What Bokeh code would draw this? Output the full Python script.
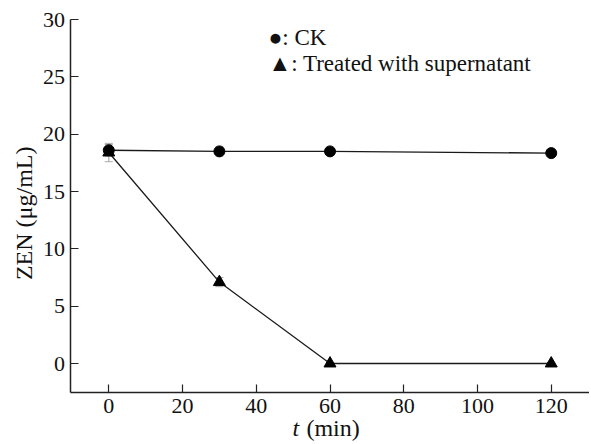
from math import pi
from bokeh.plotting import figure
from bokeh.models import ColumnDataSource, Whisker, Range1d, FixedTicker
from bokeh.core.properties import value
from bokeh.embed import file_html
from bokeh.resources import INLINE

# ---- data ----
time_min = [0, 30, 60, 120]
ck = [18.6, 18.5, 18.5, 18.35]
ck_err = [0.5, 0.4, 0.2, 0.15]
treated = [18.4, 7.1, 0.0, 0.0]
treated_err = [0.8, 0.4, 0.1, 0.1]
x_ticks = [0, 20, 40, 60, 80, 100, 120]
y_ticks = [0, 5, 10, 15, 20, 25, 30]
x_tick_labels = [str(v) for v in x_ticks]
y_tick_labels = [str(v) for v in y_ticks]
legend_labels = ["\u25cf: CK", "\u25b2: Treated with supernatant"]
y_title = "ZEN (\u03bcg/mL)"
x_title_var = "t"
x_title_unit = "(min)"

# ---- layout constants ----
FONT = "Times New Roman, Liberation Serif, DejaVu Serif, serif"
TXT = "#111111"
X_LO, X_HI = -10.4, 130.4      # axis extent
Y_LO, Y_HI = -2.53, 30.0

W, H = 589, 442
p = figure(width=W, height=H, output_backend="svg", toolbar_location=None,
           x_range=Range1d(-29.37, 130.38), y_range=Range1d(-6.89, 31.66),
           min_border=0)
p.outline_line_color = None
p.grid.visible = False
p.background_fill_color = "white"

for ax in (p.xaxis[0], p.yaxis[0]):
    ax.axis_line_color = "#222222"
    ax.axis_line_width = 1.5
    ax.major_tick_line_color = "#222222"
    ax.major_tick_line_width = 1.2
    ax.major_tick_in = 8
    ax.major_tick_out = 0
    ax.minor_tick_line_color = None
    ax.major_label_text_color = None
    ax.major_label_text_font_size = "0px"
    ax.major_label_standoff = 0

p.xaxis.ticker = FixedTicker(ticks=x_ticks)
p.yaxis.ticker = FixedTicker(ticks=y_ticks)
p.xaxis.fixed_location = Y_LO
p.yaxis.fixed_location = X_LO
p.xaxis.bounds = (X_LO, X_HI)
p.yaxis.bounds = (Y_LO, Y_HI)

# tick labels and titles as text glyphs placed at the axes' tick values
p.text(x=x_ticks, y=[-3.72] * len(x_ticks), text=x_tick_labels,
       text_font=value(FONT), text_font_size="22px", text_color=TXT,
       text_align="center", text_baseline="middle")
p.text(x=[-11.9] * len(y_ticks), y=y_ticks, text=y_tick_labels,
       text_font=value(FONT), text_font_size="22px", text_color=TXT,
       text_align="right", text_baseline="middle")
p.text(x=[-22.9], y=[13.1], text=[y_title], angle=pi / 2,
       text_font=value(FONT), text_font_size="24px", text_color=TXT,
       text_align="center", text_baseline="middle")
p.text(x=[49.8], y=[-5.6], text=[x_title_var],
       text_font=value(FONT), text_font_size="24px", text_font_style="italic",
       text_color=TXT, text_align="left", text_baseline="middle")
p.text(x=[53.6], y=[-5.6], text=[x_title_unit],
       text_font=value(FONT), text_font_size="24px", text_color=TXT,
       text_align="left", text_baseline="middle")

# ---- series ----
src_ck = ColumnDataSource(dict(x=time_min, y=ck,
                               lo=[v - e for v, e in zip(ck, ck_err)],
                               hi=[v + e for v, e in zip(ck, ck_err)]))
src_tr = ColumnDataSource(dict(x=time_min, y=treated,
                               lo=[v - e for v, e in zip(treated, treated_err)],
                               hi=[v + e for v, e in zip(treated, treated_err)]))

for src in (src_ck, src_tr):
    w = Whisker(source=src, base="x", lower="lo", upper="hi",
                line_color="#aaaaaa", line_width=1.2)
    w.upper_head.line_color = "#aaaaaa"
    w.lower_head.line_color = "#aaaaaa"
    w.upper_head.size = 8
    w.lower_head.size = 8
    p.add_layout(w)

p.line("x", "y", source=src_ck, line_color="#1a1a1a", line_width=1.3)
p.line("x", "y", source=src_tr, line_color="#1a1a1a", line_width=1.3)
p.scatter("x", "y", source=src_ck, marker="circle", size=11,
          fill_color="black", line_color="black")
p.scatter("x", "y", source=src_tr, marker="triangle", size=12,
          fill_color="black", line_color="black")

p.text(x=[43.3, 43.3], y=[28.47, 26.16], text=legend_labels,
       text_font=value(FONT), text_font_size="23px", text_color=TXT,
       text_align="left", text_baseline="middle")

open("out.html", "w").write(file_html(p, INLINE))
